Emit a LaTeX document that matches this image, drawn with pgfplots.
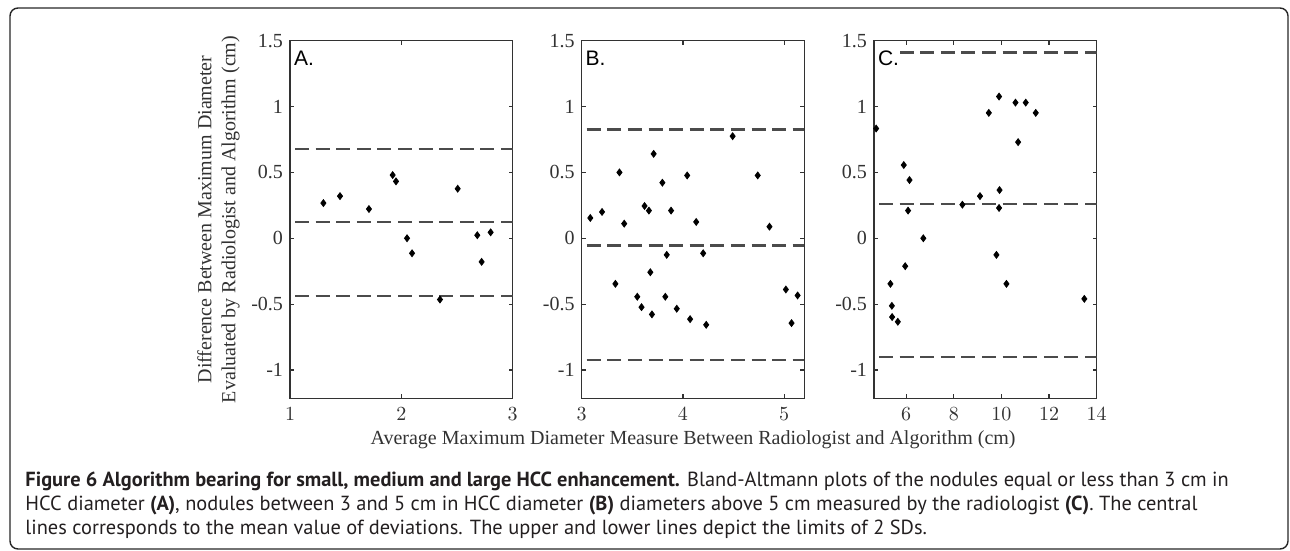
\documentclass[border=0pt]{standalone}
\usepackage{fontspec}
\setmainfont{Liberation Serif}
\newfontfamily\capfont{PT Sans}
\newfontfamily\arialfont{Liberation Sans}
\usepackage{pgfplots}
\pgfplotsset{compat=1.18}
\definecolor{axgray}{RGB}{50,50,50}
\definecolor{dashgray}{RGB}{75,75,75}
\definecolor{captext}{RGB}{35,31,32}

\pgfplotsset{
  baplot/.style={
    scale only axis, width=111.35pt, height=178.8pt,
    anchor=south west,
    ymin=-1.215, ymax=1.5,
    ytick={-1,-0.5,0,0.5,1,1.5},
    yticklabels={-1,-0.5,0,0.5,1,1.5},
    axis line style={draw=axgray, line width=0.7pt},
    tick style={draw=axgray, line width=0.6pt},
    major tick length=2pt,
    tick align=inside,
    tick label style={font=\fontsize{10}{12}\selectfont, text=axgray},
    xticklabel style={yshift=-1.2pt},
    label style={font=\fontsize{10}{12}\selectfont, text=axgray},
  },
  dots/.style={only marks, mark=diamond*, mark size=1.7pt, black},
  limit/.style={draw=dashgray, line width=1.1pt, dash pattern=on 7pt off 3.3pt,
    dash phase=7.8pt, forget plot},
}

\begin{document}
\begin{tikzpicture}
\useasboundingbox (0,0) rectangle (645pt,-275.5pt);
\draw[line width=0.7pt, black!85, rounded corners=4pt] (5pt,-4pt) rectangle (644pt,-274.5pt);

% A: nodules <= 3 cm
\begin{axis}[baplot, at={(145pt,-199.15pt)},
  xmin=1, xmax=3, xtick={1,2,3},
  ylabel={Difference Between Maximum Diameter\\Evaluated by Radiologist and Algorithm (cm)},
  ylabel style={align=center, at={(axis description cs:-0.321,0.5)}, anchor=center, rotate=0},
]
\addplot[limit] coordinates {(1,0.68) (3,0.68)};
\addplot[limit] coordinates {(1,0.123) (3,0.123)};
\addplot[limit] coordinates {(1,-0.44) (3,-0.44)};
\addplot[dots] coordinates {
  (1.30,0.267) (1.449,0.32) (1.709,0.222) (1.922,0.48) (1.952,0.432)
  (2.051,0.0) (2.096,-0.114) (2.347,-0.465) (2.506,0.376) (2.682,0.023)
  (2.802,0.045) (2.721,-0.179)
};
\node[anchor=north west, inner sep=0.6pt, fill=white, font=\arialfont\fontsize{10.5}{12}\selectfont]
  at (axis description cs:0,1) [xshift=1.2pt, yshift=-4.2pt] {A.};
\end{axis}

% B: nodules 3-5 cm
\begin{axis}[baplot, at={(290.85pt,-199.15pt)},
  xmin=3, xmax=5.2, xtick={3,4,5},
  xlabel={Average Maximum Diameter Measure Between Radiologist and Algorithm (cm)},
  xlabel style={at={(axis description cs:0.5,-0.1166)}, anchor=center},
]
\addplot[limit] coordinates {(3,0.826) (5.2,0.826)};
\addplot[limit] coordinates {(3,-0.055) (5.2,-0.055)};
\addplot[limit] coordinates {(3,-0.924) (5.2,-0.924)};
\addplot[dots] coordinates {
  (3.085,0.154) (3.201,0.2) (3.373,0.5) (3.42,0.111) (3.333,-0.346)
  (3.549,-0.444) (3.591,-0.523) (3.621,0.245) (3.664,0.21) (3.678,-0.258)
  (3.694,-0.578) (3.711,0.641) (3.797,0.422) (3.84,-0.126) (3.826,-0.444)
  (3.883,0.21) (3.939,-0.535) (4.042,0.477) (4.071,-0.614) (4.131,0.124)
  (4.2,-0.114) (4.23,-0.657) (4.491,0.775) (4.739,0.477) (4.855,0.088)
  (5.017,-0.389) (5.073,-0.644) (5.133,-0.434)
};
\node[anchor=north west, inner sep=0.6pt, fill=white, font=\arialfont\fontsize{10.5}{12}\selectfont]
  at (axis description cs:0,1) [xshift=1.2pt, yshift=-4.2pt] {B.};
\end{axis}

% C: nodules > 5 cm
\begin{axis}[baplot, at={(437pt,-199.15pt)},
  xmin=4.65, xmax=14, xtick={6,8,10,12,14},
]
\addplot[limit] coordinates {(4.65,1.411) (14,1.411)};
\addplot[limit] coordinates {(4.65,0.258) (14,0.258)};
\addplot[limit] coordinates {(4.65,-0.899) (14,-0.899)};
\addplot[dots] coordinates {
  (4.74,0.833) (5.34,-0.346) (5.4,-0.513) (5.41,-0.598) (5.65,-0.634)
  (5.9,0.556) (6.14,0.442) (6.08,0.21) (5.96,-0.212) (6.72,0.0)
  (8.36,0.255) (9.1,0.32) (9.47,0.952) (9.9,1.076) (9.92,0.366)
  (9.9,0.23) (9.79,-0.126) (10.21,-0.346) (10.59,1.03) (11.02,1.03)
  (10.7,0.73) (11.44,0.952) (13.48,-0.46)
};
\node[anchor=north west, inner sep=0.6pt, fill=white, font=\arialfont\fontsize{10.5}{12}\selectfont]
  at (axis description cs:0,1) [xshift=1.2pt, yshift=-4.2pt] {C.};
\end{axis}

% caption
\begin{scope}[every node/.style={anchor=base west, inner sep=0, text=captext,
    font=\capfont\fontsize{10.2}{12}\selectfont}]
\node at (12.5pt,-243pt) {\textbf{Figure 6 Algorithm bearing for small, medium and large HCC enhancement.} Bland-Altmann plots of the nodules equal or less than 3 cm in};
\node at (12.5pt,-255pt) {HCC diameter \textbf{(A)}, nodules between 3 and 5 cm in HCC diameter \textbf{(B)} diameters above 5 cm measured by the radiologist \textbf{(C)}. The central};
\node at (12.5pt,-267pt) {lines corresponds to the mean value of deviations. The upper and lower lines depict the limits of 2 SDs.};
\end{scope}
\end{tikzpicture}
\end{document}
